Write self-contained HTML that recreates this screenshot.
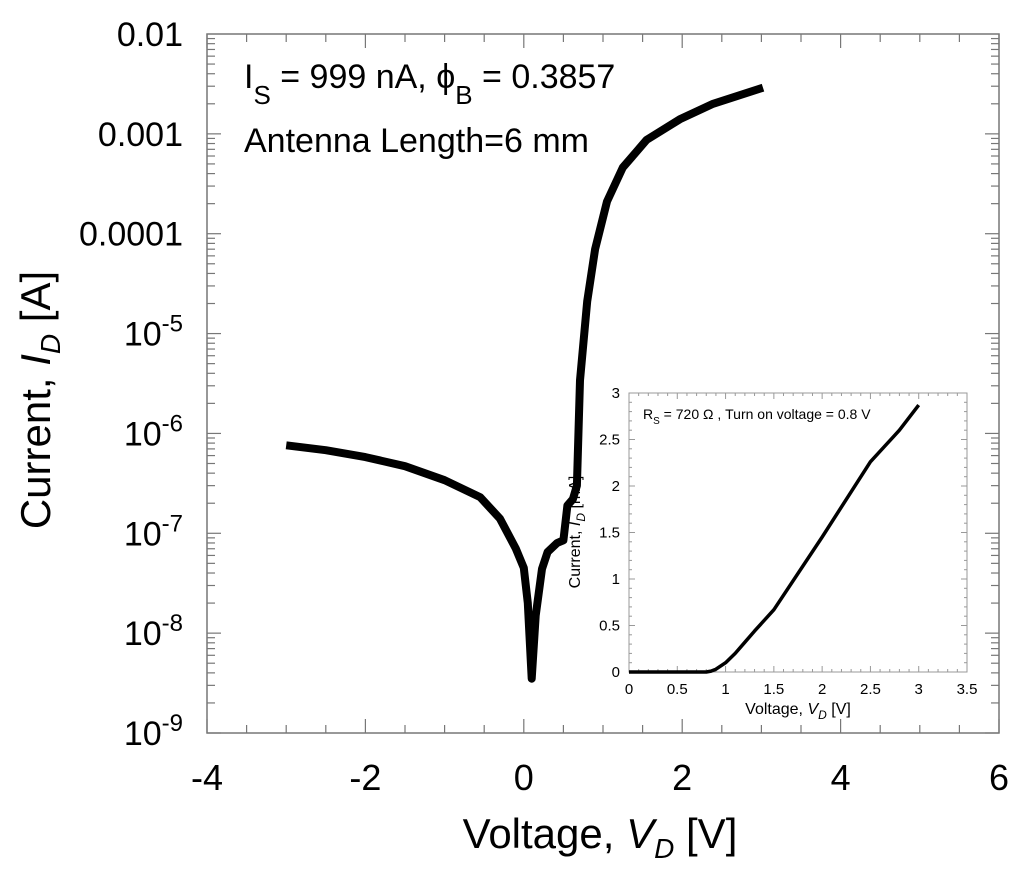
<!DOCTYPE html>
<html><head><meta charset="utf-8"><style>
body{margin:0;background:#fff;}
svg{display:block;font-family:"Liberation Sans",Arial,sans-serif;}
</style></head><body>
<svg id="chart" width="1024" height="885">
<g id="axes"></g>
</svg>
<script>
const mainV = [-3,-2.5,-2,-1.5,-1,-0.55,-0.3,-0.1,0,0.05,0.1,0.15,0.23,0.3,0.42,0.5,0.55,0.62,0.67,0.71,0.8,0.9,1.05,1.25,1.55,1.97,2.39,3.02];
const mainI = [7.6e-7,6.8e-7,5.8e-7,4.7e-7,3.4e-7,2.3e-7,1.4e-7,7e-8,4.5e-8,2e-8,3.5e-9,1.5e-8,4.4e-8,6.5e-8,8e-8,8.5e-8,1.9e-7,2.2e-7,3e-7,3.4e-6,2.1e-5,7e-5,2.1e-4,4.6e-4,8.7e-4,1.4e-3,2e-3,2.9e-3];
const xTicks = [-4,-2,0,2,4,6];
const yTickExp = [-2,-3,-4,-5,-6,-7,-8,-9];
const yTickLabels = ["0.01","0.001","0.0001","10-5","10-6","10-7","10-8","10-9"];
const insetV = [0,0.5,0.8,0.85,0.9,1.0,1.1,1.2,1.3,1.5,2,2.5,2.8,3];
const insetI = [0,0,0,0.01,0.03,0.1,0.2,0.32,0.44,0.67,1.45,2.26,2.6,2.87];
const insetXTicks = [0,0.5,1,1.5,2,2.5,3,3.5];
const insetYTicks = [0,0.5,1,1.5,2,2.5,3];

const NS="http://www.w3.org/2000/svg";
const svg=document.getElementById('chart');
function el(t,a,p){const e=document.createElementNS(NS,t);for(const k in a)e.setAttribute(k,a[k]);(p||svg).appendChild(e);return e;}
const L=207,R=999,T=34,B=733;
const X=v=>L+(v+4)/10*(R-L);
const Y=i=>T+(-2-Math.log10(i))/7*(B-T);
const frame=el('rect',{x:L,y:T,width:R-L,height:B-T,fill:'none',stroke:'#777','stroke-width':1.5});


for(let v=-4;v<=6;v+=0.5){const big=Math.abs(v%2)<1e-9;const l=big?14:8;
 el('line',{x1:X(v),x2:X(v),y1:B,y2:B-l,stroke:'#777','stroke-width':1.2});
 el('line',{x1:X(v),x2:X(v),y1:T,y2:T+l,stroke:'#777','stroke-width':1.2});}
for(let e=-9;e<-2;e++){for(let m=1;m<10;m++){const y=Y(m*Math.pow(10,e));const l=m==1?14:8;
 el('line',{x1:L,x2:L+l,y1:y,y2:y,stroke:'#777','stroke-width':1.2});
 el('line',{x1:R,x2:R-l,y1:y,y2:y,stroke:'#777','stroke-width':1.2});}}
xTicks.forEach(v=>{const t=el('text',{x:X(v),y:790,'font-size':36,'text-anchor':'middle'});t.textContent=v;
 
 });
yTickExp.forEach((e,k)=>{const lab=yTickLabels[k];const y=Y(Math.pow(10,e))+12;
 const t=el('text',{x:183,y:y,'font-size':34,'text-anchor':'end'});
 
 
 if(lab.startsWith('10')){t.textContent='10';const s=el('tspan',{dy:-14,'font-size':24},t);s.textContent=lab.slice(2);}
 else t.textContent=lab;});
const xt=el('text',{x:600,y:848,'font-size':42,'text-anchor':'middle'});


xt.innerHTML='Voltage, <tspan font-style="italic">V</tspan><tspan font-size="28" font-style="italic" dy="10">D</tspan><tspan dy="-10"> [V]</tspan>';
const yt=el('text',{x:0,y:0,'font-size':42,'text-anchor':'middle',transform:'translate(50,400) rotate(-90)'});


yt.innerHTML='Current, <tspan font-style="italic">I</tspan><tspan font-size="28" font-style="italic" dy="10">D</tspan><tspan dy="-10"> [A]</tspan>';
const a1=el('text',{x:244,y:88,'font-size':34});


a1.innerHTML='I<tspan font-size="26" dy="16">S</tspan><tspan dy="-16"> = 999 nA, ϕ</tspan><tspan font-size="26" dy="16">B</tspan><tspan dy="-16"> = 0.3857</tspan>';
const a2=el('text',{x:244,y:152,'font-size':34});a2.textContent='Antenna Length=6 mm';


const iL=629,iR=967,iT=393,iB=672;
const IX=v=>iL+v/3.5*(iR-iL);
const IY=i=>iB-i/3*(iB-iT);
const inf=el('rect',{x:iL,y:iT,width:iR-iL,height:iB-iT,fill:'#fff',stroke:'#999','stroke-width':1});


for(let v=0;v<=3.5001;v+=0.1){const big=Math.abs(v*2-Math.round(v*2))<1e-6;const l=big?6:3;
 el('line',{x1:IX(v),x2:IX(v),y1:iB,y2:iB-l,stroke:'#999'});el('line',{x1:IX(v),x2:IX(v),y1:iT,y2:iT+l,stroke:'#999'});}
for(let v=0;v<=3.0001;v+=0.1){const big=Math.abs(v*2-Math.round(v*2))<1e-6;const l=big?6:3;
 el('line',{x1:iL,x2:iL+l,y1:IY(v),y2:IY(v),stroke:'#999'});el('line',{x1:iR,x2:iR-l,y1:IY(v),y2:IY(v),stroke:'#999'});}
insetXTicks.forEach(v=>{const t=el('text',{x:IX(v),y:iB+22,'font-size':15,'text-anchor':'middle'});t.textContent=v;
 
 });
insetYTicks.forEach(v=>{const t=el('text',{x:iL-9,y:IY(v)+5,'font-size':15,'text-anchor':'end'});t.textContent=v;
 
 });
const ixt=el('text',{x:798,y:714,'font-size':16,'text-anchor':'middle'});


ixt.innerHTML='Voltage, <tspan font-style="italic">V</tspan><tspan font-size="12" font-style="italic" dy="5">D</tspan><tspan dy="-5"> [V]</tspan>';
const iyt=el('text',{x:0,y:0,'font-size':16,'text-anchor':'middle',transform:'translate(580,532) rotate(-90)'});


iyt.innerHTML='Current, <tspan font-style="italic">I</tspan><tspan font-size="12" font-style="italic" dy="5">D</tspan><tspan dy="-5"> [mA]</tspan>';
const ia=el('text',{x:643,y:419,'font-size':14});


ia.innerHTML='R<tspan font-size="10" dy="5">S</tspan><tspan dy="-5"> = 720 Ω , Turn on voltage = 0.8 V</tspan>';
const ip=el('path',{d:insetV.map((v,k)=>(k?'L':'M')+IX(v).toFixed(1)+','+IY(insetI[k]).toFixed(1)).join(''),fill:'none',stroke:'#000','stroke-width':3.5,'stroke-linejoin':'round'});


const mp=el('path',{d:mainV.map((v,k)=>(k?'L':'M')+X(v).toFixed(1)+','+Y(mainI[k]).toFixed(1)).join(''),fill:'none',stroke:'#000','stroke-width':8,'stroke-linejoin':'round'});


</script>
</body></html>
